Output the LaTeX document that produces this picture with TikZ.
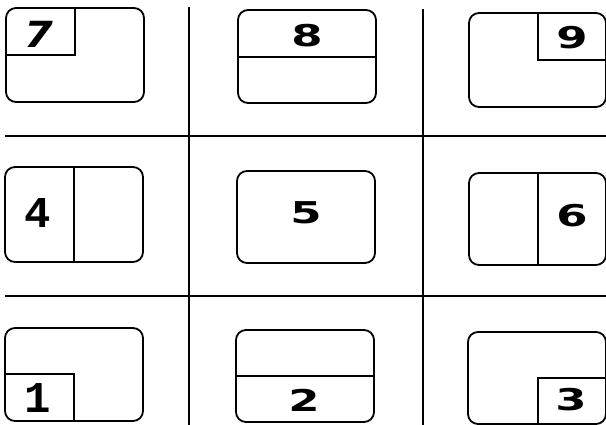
\documentclass[tikz,border=0pt]{standalone}
\usepackage{fontspec}
\setmainfont{DejaVu Sans}
\newfontfamily\monob{Liberation Mono}
\begin{document}
\begin{tikzpicture}[x=1pt,y=-1pt,
  box/.style={line width=1.8pt, rounded corners=10pt},
  part/.style={line width=1.8pt},
  gridline/.style={line width=2.4pt},
  sq/.style={inner sep=0pt, font=\fontsize{30}{30}\selectfont\bfseries},
  serifdig/.style={inner sep=0pt, font=\fontsize{44}{44}\selectfont\monob\bfseries},
  slantdig/.style={inner sep=0pt, font=\fontsize{36}{36}\selectfont\bfseries\itshape}]
\useasboundingbox (0,0) rectangle (606,424);
\clip (0,0) rectangle (606,424);
% grid
\draw[gridline] (189,7) -- (189,426);
\draw[gridline] (423,9) -- (423,426);
\draw[gridline] (5,136) -- (608,136);
\draw[gridline] (5,296) -- (608,296);
% box 7
\draw[box] (6,8) rectangle (144,102);
\draw[part] (75,8) -- (75,55) -- (6,55);
\node[slantdig] (d7) at (39,34) {\scalebox{1.15}[1]{7}};
% box 8
\draw[box] (238,10) rectangle (376,103);
\draw[part] (238,57) -- (376,57);
\node[sq] (d8) at (307,36) {\scalebox{1.5}[1]{8}};
% box 9
\draw[box] (469,13) rectangle (606,107);
\draw[part] (538,13) -- (538,60) -- (608,60);
\node[sq] (d9) at (572,38) {\scalebox{1.5}[1]{9}};
% box 4
\draw[box] (5,167) rectangle (143,262);
\draw[part] (74,167) -- (74,262);
\node[serifdig] (d4) at (38,213) {4};
% box 5
\draw[box] (237,171) rectangle (375,263);
\node[sq] (d5) at (306,213) {\scalebox{1.5}[1]{5}};
% box 6
\draw[box] (469,173) rectangle (606,265);
\draw[part] (538,173) -- (538,265);
\node[sq] (d6) at (572,216) {\scalebox{1.5}[1]{6}};
% box 1
\draw[box] (5,328) rectangle (143,421);
\draw[part] (5,374) -- (74,374) -- (74,421);
\node[serifdig] (d1) at (38,398) {1};
% box 2
\draw[box] (236,330) rectangle (374,422);
\draw[part] (236,376) -- (374,376);
\node[sq] (d2) at (304,400) {\scalebox{1.5}[1]{2}};
% box 3
\draw[box] (468,332) rectangle (606,424);
\draw[part] (538,426) -- (538,378) -- (608,378);
\node[sq] (d3) at (571,400) {\scalebox{1.5}[1]{3}};
\end{tikzpicture}
\end{document}
